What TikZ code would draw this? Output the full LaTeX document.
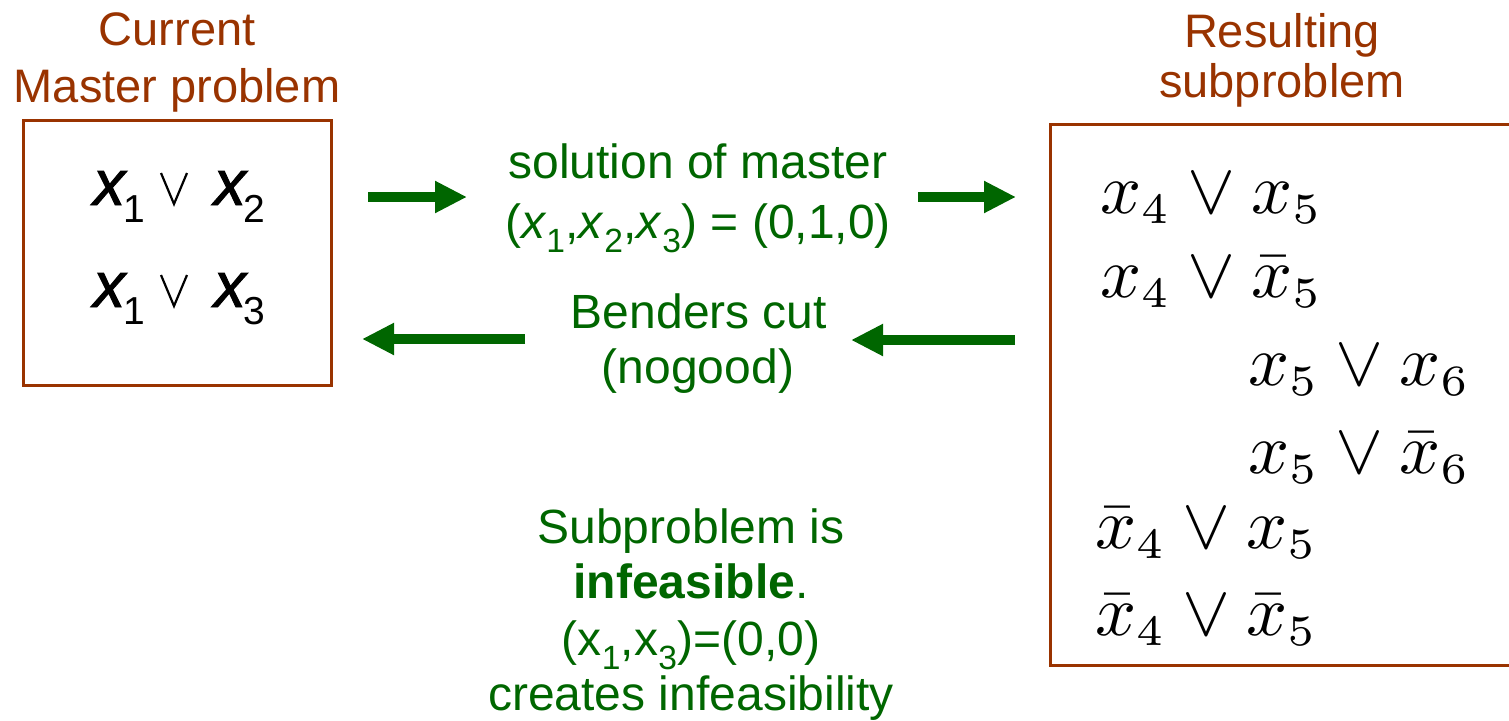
\documentclass[tikz,border=0pt]{standalone}
\usepackage{fontspec}
\setmainfont{Liberation Sans}
\newfontfamily\xfont[FakeBold=1.5]{Liberation Sans Italic}
\usepackage{graphicx}
\usetikzlibrary{arrows.meta}
\definecolor{brn}{RGB}{153,51,0}
\definecolor{grn}{RGB}{0,102,0}
\DeclareMathSizes{10}{10}{6}{5}
\newcommand{\lsub}[1]{\raisebox{-17pt}{\normalfont\fontsize{39}{39}\selectfont #1}}
\newcommand{\rbig}[1]{\scalebox{7.2}{\fontsize{10}{12}\selectfont$#1$}}
\begin{document}
\begin{tikzpicture}[x=1pt,y=-1pt,
  title/.style={text=brn, font=\fontsize{47}{47}\selectfont, inner sep=0pt, anchor=base},
  gtext/.style={text=grn, font=\fontsize{48}{48}\selectfont, inner sep=0pt, anchor=base},
  box/.style={draw=brn, line width=3pt},
  garrow/.style={draw=grn, line width=10pt, -{Triangle[length=32pt,width=30pt]}},
  lmath/.style={font=\xfont\fontsize{64}{64}\selectfont, inner sep=0pt, anchor=base west},
  orv/.style={draw=black, line width=2.2pt, line join=miter},
  rmath/.style={inner sep=0pt, anchor=base west}]
\useasboundingbox (0,0) rectangle (1509,720);

% titles
\node[title] (t1) at (177,45) {Current};
\node[title] (t2) at (177,102) {Master problem};
\node[title] (t3) at (1282,47) {Resulting};
\node[title] (t4) at (1282,97) {subproblem};

% left box
\node[box, minimum width=308pt, minimum height=265pt, inner sep=0pt] (master) at (177,252.5) {};
\node[lmath] (m1) at (93,205) {x\hspace{-2pt}\lsub{1}\hspace{69pt}x\hspace{-2pt}\lsub{2}};
\node[lmath] (m2) at (93,307) {x\hspace{-2pt}\lsub{1}\hspace{69pt}x\hspace{-2pt}\lsub{3}};
\coordinate (v1a) at (161,173); \coordinate (v1b) at (174,204); \coordinate (v1c) at (187,173);
\coordinate (v2a) at (161,275); \coordinate (v2b) at (174,306); \coordinate (v2c) at (187,275);
\draw[orv] (v1a) -- (v1b) -- (v1c);
\draw[orv] (v2a) -- (v2b) -- (v2c);

% right box
\coordinate (rtr) at (1509,124);
\coordinate (rtl) at (1050,124);
\coordinate (rbl) at (1050,665);
\coordinate (rbr) at (1509,665);
\draw[box] (rtr) -- (rtl) -- (rbl) -- (rbr);
\node[rmath] (s1) at (1100,213) {\rbig{x_4\vee x_5}};
\node[rmath] (s2) at (1100,297) {\rbig{x_4\vee \bar x_5}};
\node[rmath] (s3) at (1248,385) {\rbig{x_5\vee x_6}};
\node[rmath] (s4) at (1248,473) {\rbig{x_5\vee \bar x_6}};
\node[rmath] (s5) at (1095,548) {\rbig{\bar x_4\vee x_5}};
\node[rmath] (s6) at (1095,635) {\rbig{\bar x_4\vee \bar x_5}};

% green texts
\node[gtext] (g1) at (698,178) {solution of master};
\node[gtext] (g2) at (698,238) {(\textit{x}\textsubscript{1},\textit{x}\textsubscript{2},\textit{x}\textsubscript{3}) = (0,1,0)};
\node[gtext] (g3) at (699,328) {Benders cut};
\node[gtext] (g4) at (698,383) {(nogood)};
\node[gtext] (b1) at (691,543) {Subproblem is};
\node[gtext] (b2) at (691,598) {\textbf{infeasible}.};
\node[gtext] (b3) at (691,655) {(x\textsubscript{1},x\textsubscript{3})=(0,0)};
\node[gtext] (b4) at (691,710) {creates infeasibility};

% arrows
\coordinate (a1s) at (368,197); \coordinate (a1e) at (467,197);
\coordinate (a2s) at (918,197); \coordinate (a2e) at (1016,197);
\coordinate (a3s) at (525,339); \coordinate (a3e) at (362,339);
\coordinate (a4s) at (1015,340); \coordinate (a4e) at (851,340);
\draw[garrow] (a1s) -- (a1e);
\draw[garrow] (a2s) -- (a2e);
\draw[garrow] (a3s) -- (a3e);
\draw[garrow] (a4s) -- (a4e);
\end{tikzpicture}
\end{document}
